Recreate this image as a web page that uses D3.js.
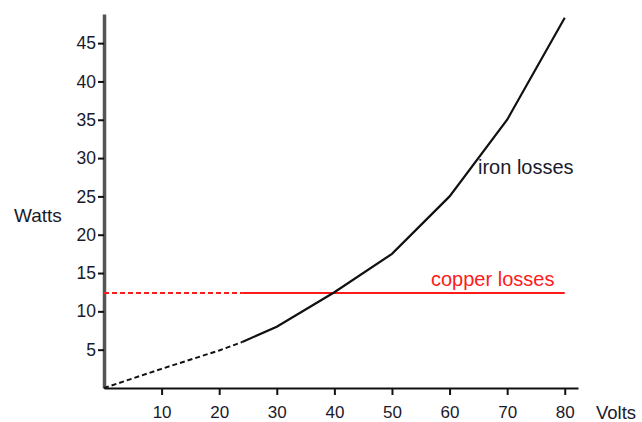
<!DOCTYPE html>
<html>
<head>
<meta charset="utf-8">
<script src="https://cdn.jsdelivr.net/npm/d3@7"></script>
<style>
  body { margin: 0; background: #fff; }
  text { font-family: "Liberation Sans", Arial, sans-serif; }
</style>
</head>
<body>
<script>
'use strict';

// ticks
let xTicks = [10, 20, 30, 40, 50, 60, 70, 80];
let yTicks = [5, 10, 15, 20, 25, 30, 35, 40, 45];

// iron losses, dashed at low volts then solid
let ironDashedV = [0, 10, 20, 24];
let ironDashedW = [0, 2.5, 4.9, 6];
let ironSolidV = [24, 30, 40, 50, 60, 70, 80];
let ironSolidW = [6, 8, 12.5, 17.5, 25, 35, 48.3];

// copper losses, constant
let copperDashedV = [0, 24];
let copperSolidV = [24, 80];
let copperW = 12.4;

let width = 642;
let height = 422;

let x = d3.scaleLinear().domain([0, 82.3]).range([104, 578]);
let y = d3.scaleLinear().domain([0, 48.8]).range([388, 14]);

let svg = d3.select('body').append('svg')
    .attr('width', width)
    .attr('height', height);

let line = d3.line()
    .x(function(d) { return x(d[0]); })
    .y(function(d) { return y(d[1]); });

let zip = (a, b) => a.map((v, i) => [v, Array.isArray(b) ? b[i] : b]);

// x axis
let xAxis = svg.append('g')
    .attr('transform', 'translate(0,388)')
    .call(d3.axisBottom(x).tickValues(xTicks).tickSize(7).tickSizeOuter(0).tickPadding(11));
xAxis.select('.domain').attr('stroke', '#111').attr('stroke-width', 2);
xAxis.selectAll('.tick line').attr('stroke', '#111').attr('stroke-width', 2);
xAxis.selectAll('.tick text')
    .attr('font-size', 17)
    .attr('font-family', '"Liberation Sans", Arial, sans-serif')
    .attr('fill', '#1a1a2a');

// y axis
let yAxis = svg.append('g')
    .attr('transform', 'translate(104,0)')
    .call(d3.axisLeft(y).tickValues(yTicks).tickSize(6).tickSizeOuter(0).tickPadding(2));
yAxis.select('.domain').attr('stroke', '#555').attr('stroke-width', 3.5);
yAxis.selectAll('.tick line').attr('stroke', '#111').attr('stroke-width', 2);
yAxis.selectAll('.tick text')
    .attr('font-size', 17.5)
    .attr('font-family', '"Liberation Sans", Arial, sans-serif')
    .attr('fill', '#1a1a2a');

// copper losses
svg.append('path')
    .attr('d', line(zip(copperDashedV, copperW)))
    .attr('fill', 'none')
    .attr('stroke', '#ff1a1a')
    .attr('stroke-width', 2)
    .attr('stroke-dasharray', '5,3');
svg.append('path')
    .attr('d', line(zip(copperSolidV, copperW)))
    .attr('fill', 'none')
    .attr('stroke', '#ff1a1a')
    .attr('stroke-width', 2);

// iron losses
svg.append('path')
    .attr('d', line(zip(ironDashedV, ironDashedW)))
    .attr('fill', 'none')
    .attr('stroke', '#111')
    .attr('stroke-width', 2)
    .attr('stroke-dasharray', '5,3');
svg.append('path')
    .attr('d', line(zip(ironSolidV, ironSolidW)))
    .attr('fill', 'none')
    .attr('stroke', '#111')
    .attr('stroke-width', 2.2);

// labels
svg.append('text')
    .attr('x', 14).attr('y', 222)
    .attr('font-size', 19).attr('fill', '#1a1a2a')
    .text('Watts');
svg.append('text')
    .attr('x', 596).attr('y', 419)
    .attr('font-size', 18.5).attr('fill', '#1a1a2a')
    .text('Volts');
svg.append('text')
    .attr('x', 478).attr('y', 174)
    .attr('font-size', 20).attr('fill', '#1a1a2a')
    .text('iron losses');
svg.append('text')
    .attr('x', 431).attr('y', 286)
    .attr('font-size', 20).attr('fill', '#ff1a1a')
    .text('copper losses');
</script>
</body>
</html>
